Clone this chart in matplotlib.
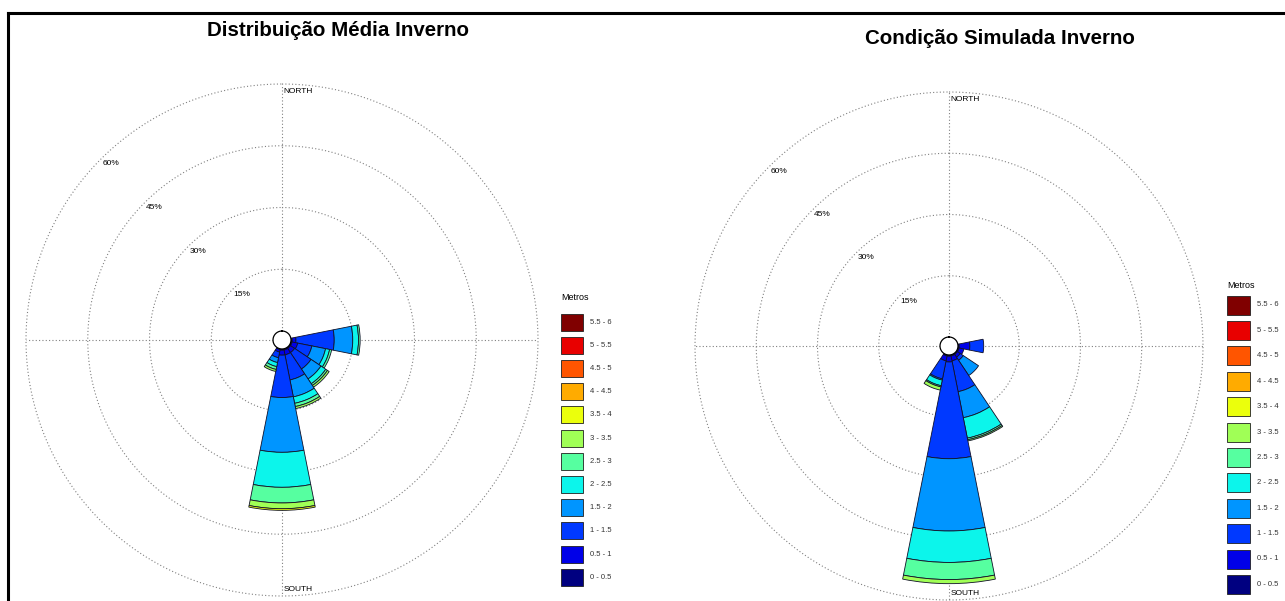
import numpy as np
import matplotlib
matplotlib.use('Agg')
import matplotlib.pyplot as plt
from matplotlib.patches import Rectangle
from matplotlib.lines import Line2D

plt.rcParams['font.family'] = ['Liberation Sans', 'DejaVu Sans']

W, H = 1285, 601

# classes de altura (m)
faixas = ['0 - 0.5', '0.5 - 1', '1 - 1.5', '1.5 - 2', '2 - 2.5', '2.5 - 3',
          '3 - 3.5', '3.5 - 4', '4 - 4.5', '4.5 - 5', '5 - 5.5', '5.5 - 6']
aneis = [15, 30, 45, 60]

# Distribuicao media - direcoes (graus) e frequencia (%) por classe
dir_media = [90, 112.5, 135, 157.5, 180, 202.5]
freq_media = [
    [0.3, 0.9, 9.3, 4.5, 1.4, 0.4],
    [0.3, 1.4, 3.5, 3.4, 1.0, 0.5],
    [0.3, 1.2, 4.8, 2.9, 1.4, 0.5, 0.5],
    [0.3, 1.2, 6.2, 4.2, 1.6, 0.8, 0.5],
    [0.3, 1.2, 10.3, 13.3, 8.5, 3.8, 1.4, 0.4],
    [0.2, 0.6, 1.4, 1.2, 1.0, 0.7, 0.5],
]

# Condicao simulada
dir_sim = [90, 112.5, 135, 157.5, 180, 202.5]
freq_sim = [
    [0.3, 2.6, 3.4],
    [0.3, 1.2],
    [0.3, 0.8, 0.9, 4.5],
    [0.3, 1.2, 7.7, 6.5, 5.1, 0.4, 0.3],
    [0.3, 1.4, 23.7, 17.7, 7.7, 4.2, 1.0],
    [0.3, 1.2, 4.5, 0.3, 1.4, 0.3, 0.8],
]

cores = plt.cm.jet(np.linspace(0, 1, len(faixas)))

fig = plt.figure(figsize=(W / 100, H / 100), dpi=100)


def rosa(cx, cy, R, direcoes, freqs):
    furo = 60 * 9 / (R - 9)
    ax = fig.add_axes([(cx - R) / W, (H - cy - R) / H, 2 * R / W, 2 * R / H],
                      projection='polar')
    ax.set_theta_zero_location('N')
    ax.set_theta_direction(-1)
    ax.set_rorigin(-furo)
    ax.set_rlim(0, 60)
    ax.axis('off')

    th = np.linspace(0, 2 * np.pi, 500)
    for a in aneis:
        ax.plot(th, np.full_like(th, a), ls=(0, (1, 2)), color='0.5', lw=0.8, clip_on=False)
        ax.annotate('%d%%' % a, xy=(np.deg2rad(315), a), xytext=(1, -1),
                    textcoords='offset points', ha='left', va='top', fontsize=6)
    for t in [0, 90, 180, 270]:
        ax.plot([np.deg2rad(t)] * 2, [0, 60], ls=(0, (1, 2)), color='0.5', lw=0.8)

    for d, f in zip(direcoes, freqs):
        base = 0
        for k, v in enumerate(f):
            if v <= 0:
                continue
            ax.bar(np.deg2rad(d), v, width=np.deg2rad(22.5), bottom=base,
                   color=cores[k], edgecolor='#101028', linewidth=0.6, zorder=3)
            base += v

    ax.plot(th, np.zeros_like(th), color='k', lw=0.9, clip_on=False, zorder=4)

    ax.annotate('NORTH', xy=(0, 60), xytext=(1, -3), textcoords='offset points',
                ha='left', va='top', fontsize=6)
    ax.annotate('EAST', xy=(np.pi / 2, 60), xytext=(-1, -2), textcoords='offset points',
                ha='right', va='top', fontsize=6)
    ax.annotate('WEST', xy=(3 * np.pi / 2, 60), xytext=(1, -2), textcoords='offset points',
                ha='left', va='top', fontsize=6)
    ax.annotate('SOUTH', xy=(np.pi, 60), xytext=(1, 2), textcoords='offset points',
                ha='left', va='bottom', fontsize=6)
    return ax


def legenda(x, y0, passo, bw, bh, xt, yt):
    fig.text(x / W, 1 - yt / H, 'Metros', fontsize=6.5, va='center', ha='left')
    for i, k in enumerate(range(len(faixas) - 1, -1, -1)):
        yc = y0 + i * passo
        fig.add_artist(Rectangle((x / W, 1 - (yc + bh / 2) / H), bw / W, bh / H,
                                 transform=fig.transFigure, facecolor=cores[k],
                                 edgecolor='#202020', lw=0.6))
        fig.text(xt / W, 1 - yc / H, faixas[k], fontsize=5.5,
                 va='center', ha='left', color='#333333')


rosa(282, 340, 256, dir_media, freq_media)
rosa(949, 346, 254, dir_sim, freq_sim)

fig.text(338 / W, 1 - 30 / H, 'Distribuição Média Inverno', fontsize=14.8,
         fontweight='bold', ha='center', va='center')
fig.text(1000 / W, 1 - 38 / H, 'Condição Simulada Inverno', fontsize=14.8,
         fontweight='bold', ha='center', va='center')

legenda(561, 322, 23.2, 22, 17, 590, 298)
legenda(1227, 305, 25.4, 23, 19, 1257, 285)

# moldura
fig.add_artist(Line2D([8 / W, 8 / W], [0, 1 - 13 / H], color='k', lw=2.2,
                      transform=fig.transFigure))
fig.add_artist(Line2D([8 / W, 1], [1 - 13 / H, 1 - 13 / H], color='k', lw=2.2,
                      transform=fig.transFigure))

fig.savefig('out.png', dpi=100)
